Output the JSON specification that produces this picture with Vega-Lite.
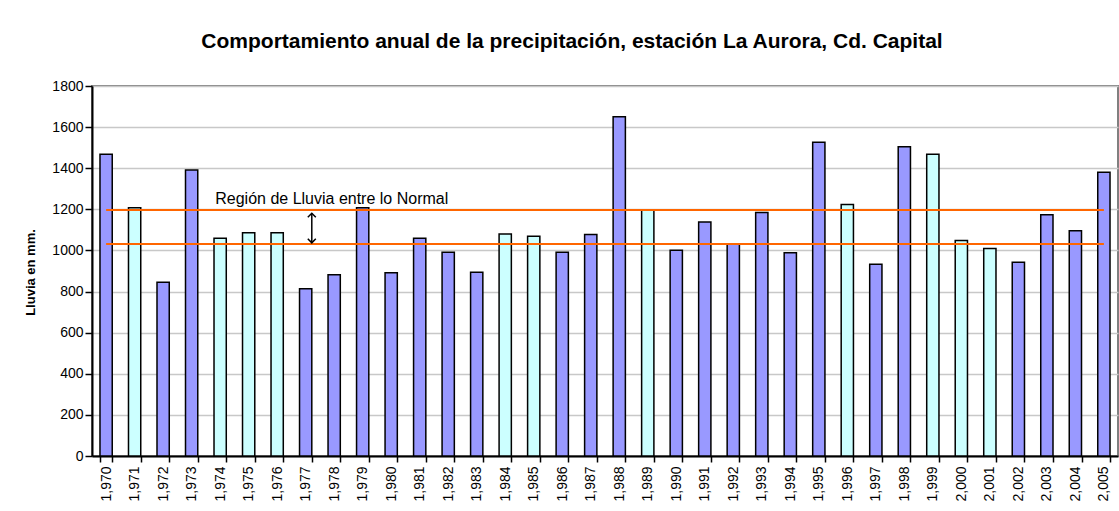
{
  "$schema": "https://vega.github.io/schema/vega-lite/v6.json",
  "width": 1026,
  "height": 370,
  "autosize": {"type": "none"},
  "padding": {"left": 92, "top": 86, "right": 1, "bottom": 55},
  "background": "white",
  "title": {
    "text": "Comportamiento anual de la precipitación, estación La Aurora, Cd. Capital",
    "font": "Liberation Sans",
    "fontSize": 21,
    "fontWeight": "bold",
    "color": "black",
    "anchor": "middle",
    "frame": "group",
    "dx": -33,
    "offset": 6,
    "baseline": "bottom"
  },
  "config": {
    "font": "Liberation Sans",
    "view": {"stroke": "#808080", "strokeWidth": 2},
    "axis": {"labelFont": "Liberation Sans", "labelColor": "black", "titleFont": "Liberation Sans"}
  },
  "datasets": {
    "lluvia": [
      {"year": 1970, "mm": 1468, "tipo": "fuera"},
      {"year": 1971, "mm": 1208, "tipo": "normal"},
      {"year": 1972, "mm": 845, "tipo": "fuera"},
      {"year": 1973, "mm": 1391, "tipo": "fuera"},
      {"year": 1974, "mm": 1059, "tipo": "normal"},
      {"year": 1975, "mm": 1086, "tipo": "normal"},
      {"year": 1976, "mm": 1086, "tipo": "normal"},
      {"year": 1977, "mm": 814, "tipo": "fuera"},
      {"year": 1978, "mm": 882, "tipo": "fuera"},
      {"year": 1979, "mm": 1208, "tipo": "fuera"},
      {"year": 1980, "mm": 892, "tipo": "fuera"},
      {"year": 1981, "mm": 1059, "tipo": "fuera"},
      {"year": 1982, "mm": 991, "tipo": "fuera"},
      {"year": 1983, "mm": 894, "tipo": "fuera"},
      {"year": 1984, "mm": 1080, "tipo": "normal"},
      {"year": 1985, "mm": 1069, "tipo": "normal"},
      {"year": 1986, "mm": 991, "tipo": "fuera"},
      {"year": 1987, "mm": 1078, "tipo": "fuera"},
      {"year": 1988, "mm": 1651, "tipo": "fuera"},
      {"year": 1989, "mm": 1197, "tipo": "normal"},
      {"year": 1990, "mm": 1001, "tipo": "fuera"},
      {"year": 1991, "mm": 1138, "tipo": "fuera"},
      {"year": 1992, "mm": 1031, "tipo": "fuera"},
      {"year": 1993, "mm": 1185, "tipo": "fuera"},
      {"year": 1994, "mm": 989, "tipo": "fuera"},
      {"year": 1995, "mm": 1526, "tipo": "fuera"},
      {"year": 1996, "mm": 1224, "tipo": "normal"},
      {"year": 1997, "mm": 933, "tipo": "fuera"},
      {"year": 1998, "mm": 1505, "tipo": "fuera"},
      {"year": 1999, "mm": 1468, "tipo": "normal"},
      {"year": 2000, "mm": 1048, "tipo": "normal"},
      {"year": 2001, "mm": 1010, "tipo": "normal"},
      {"year": 2002, "mm": 942, "tipo": "fuera"},
      {"year": 2003, "mm": 1174, "tipo": "fuera"},
      {"year": 2004, "mm": 1096, "tipo": "fuera"},
      {"year": 2005, "mm": 1380, "tipo": "fuera"}
    ],
    "limites": [
      {"year": 1970, "mm": 1197, "linea": "superior"},
      {"year": 2005, "mm": 1197, "linea": "superior"},
      {"year": 1970, "mm": 1031, "linea": "inferior"},
      {"year": 2005, "mm": 1031, "linea": "inferior"}
    ],
    "flecha": [
      {"year": 1977, "desde": 1037, "hasta": 1181}
    ],
    "puntas": [
      {"year": 1977, "mm": 1181, "dir": "arriba"},
      {"year": 1977, "mm": 1037, "dir": "abajo"}
    ],
    "nota": [
      {"year": 1974, "mm": 1197, "texto": "Región de Lluvia entre lo Normal"}
    ]
  },
  "layer": [
    {
      "data": {"name": "lluvia"},
      "mark": {"type": "bar", "stroke": "black", "strokeWidth": 1.5},
      "encoding": {
        "x": {
          "field": "year",
          "type": "ordinal",
          "scale": {"paddingInner": 0.57, "paddingOuter": 0.28},
          "axis": {
            "title": null,
            "labelAngle": -90,
            "labelExpr": "isValid(datum.value) ? format(datum.value, ',') : ''",
            "labelFontSize": 14,
            "labelPadding": 4,
            "tickBand": "extent",
            "tickColor": "black",
            "tickSize": 6,
            "tickWidth": 1.5,
            "domainColor": "black",
            "domainWidth": 2,
            "grid": false
          }
        },
        "y": {
          "field": "mm",
          "type": "quantitative",
          "scale": {"domain": [0, 1800], "nice": false},
          "axis": {
            "title": "Lluvia en mm.",
            "titleFontSize": 13,
            "titleFontWeight": "bold",
            "titleColor": "black",
            "titleX": -62,
            "titleY": 186,
            "titleAlign": "center",
            "titleBaseline": "middle",
            "values": [0, 200, 400, 600, 800, 1000, 1200, 1400, 1600, 1800],
            "format": "d",
            "labelFontSize": 14,
            "labelPadding": 2,
            "tickColor": "black",
            "tickSize": 7,
            "tickWidth": 1.5,
            "domainColor": "black",
            "domainWidth": 2,
            "gridColor": "#C8C8C8",
            "gridWidth": 1.5
          }
        },
        "fill": {
          "field": "tipo",
          "type": "nominal",
          "scale": {"domain": ["fuera", "normal"], "range": ["#9999FF", "#CCFFFF"]},
          "legend": null
        }
      }
    },
    {
      "data": {"name": "limites"},
      "mark": {"type": "line", "color": "#FF6600", "strokeWidth": 2},
      "encoding": {
        "x": {"field": "year", "type": "ordinal"},
        "y": {"field": "mm", "type": "quantitative"},
        "detail": {"field": "linea", "type": "nominal"}
      }
    },
    {
      "data": {"name": "flecha"},
      "mark": {"type": "rule", "color": "black", "strokeWidth": 1.5},
      "encoding": {
        "x": {"field": "year", "type": "ordinal", "bandPosition": 1},
        "y": {"field": "desde", "type": "quantitative"},
        "y2": {"field": "hasta"}
      }
    },
    {
      "data": {"name": "puntas"},
      "mark": {"type": "point", "filled": false, "stroke": "black", "strokeWidth": 1.5, "size": 64, "opacity": 1},
      "encoding": {
        "x": {"field": "year", "type": "ordinal", "bandPosition": 1},
        "y": {"field": "mm", "type": "quantitative"},
        "shape": {
          "field": "dir",
          "type": "nominal",
          "scale": {"domain": ["arriba", "abajo"], "range": ["M-1,1L0,0L1,1", "M-1,-1L0,0L1,-1"]},
          "legend": null
        }
      }
    },
    {
      "data": {"name": "nota"},
      "mark": {"type": "text", "align": "left", "baseline": "alphabetic", "dy": -6, "fontSize": 16, "font": "Liberation Sans", "color": "black"},
      "encoding": {
        "x": {"field": "year", "type": "ordinal", "bandPosition": 0.1},
        "y": {"field": "mm", "type": "quantitative"},
        "text": {"field": "texto"}
      }
    }
  ]
}
